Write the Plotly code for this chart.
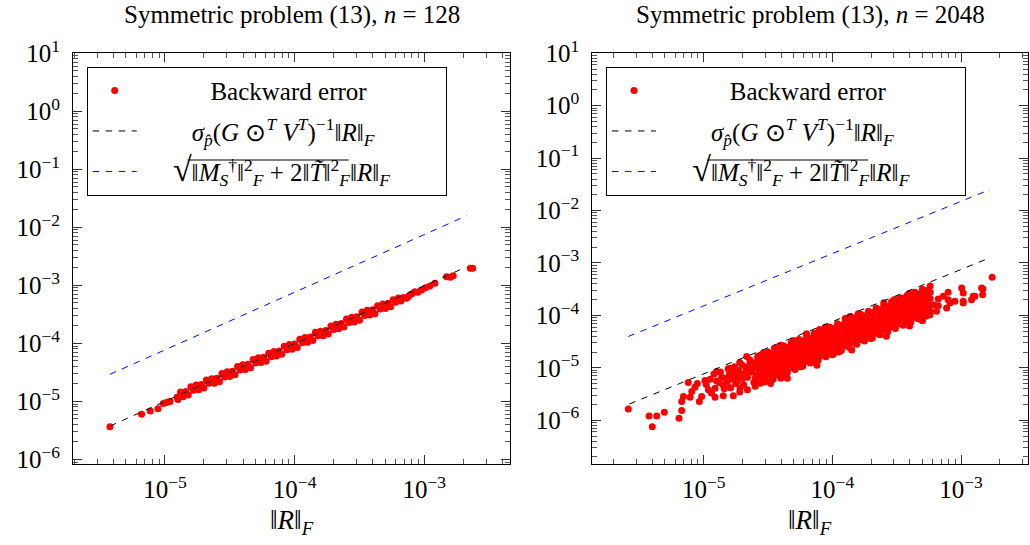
import plotly.graph_objects as go

# ---------------- data (log10 values) ----------------
# Left panel, n = 128 : log10 ||R||_F  and  log10 backward error
left_log_resid = [
    -5.424, -5.180, -5.113, -5.054, -5.013, -4.995, -4.975, -4.961, -4.907, -4.900,
    -4.88, -4.86, -4.84, -4.82, -4.80, -4.78, -4.76, -4.74, -4.72, -4.70,
    -4.68, -4.66, -4.64, -4.62, -4.60, -4.58, -4.56, -4.54, -4.52, -4.50,
    -4.48, -4.46, -4.44, -4.42, -4.40, -4.38, -4.36, -4.34, -4.32, -4.30,
    -4.28, -4.26, -4.24, -4.22, -4.20, -4.18, -4.16, -4.14, -4.12, -4.10,
    -4.08, -4.06, -4.04, -4.02, -4.00, -3.98, -3.96, -3.94, -3.92, -3.90,
    -3.88, -3.86, -3.84, -3.82, -3.80, -3.78, -3.76, -3.74, -3.72, -3.70,
    -3.68, -3.66, -3.64, -3.62, -3.60, -3.58, -3.56, -3.54, -3.52, -3.50,
    -3.48, -3.46, -3.44, -3.42, -3.40, -3.38, -3.36, -3.34, -3.32, -3.30,
    -3.28, -3.26, -3.24, -3.22, -3.20, -3.18,
    -3.16, -3.136, -3.12, -3.098, -3.073, -3.05, -3.021, -2.99, -2.957, -2.918,
    -2.828, -2.80, -2.777, -2.645, -2.627,
]
left_log_berr = [
    -5.438, -5.224, -5.167, -5.128, -5.038, -5.024, -5.012, -5.003, -4.931, -4.969,
    -4.84, -4.92, -4.83, -4.89, -4.75, -4.81, -4.72, -4.80, -4.71, -4.77,
    -4.63, -4.69, -4.61, -4.69, -4.60, -4.66, -4.52, -4.58, -4.49, -4.57,
    -4.48, -4.54, -4.40, -4.46, -4.37, -4.45, -4.36, -4.42, -4.28, -4.34,
    -4.25, -4.33, -4.24, -4.31, -4.17, -4.23, -4.14, -4.22, -4.13, -4.19,
    -4.05, -4.11, -4.02, -4.10, -4.01, -4.07, -3.93, -3.99, -3.90, -3.98,
    -3.89, -3.95, -3.81, -3.87, -3.79, -3.87, -3.78, -3.84, -3.70, -3.76,
    -3.67, -3.75, -3.66, -3.72, -3.58, -3.64, -3.55, -3.63, -3.54, -3.60,
    -3.46, -3.52, -3.43, -3.51, -3.42, -3.49, -3.35, -3.41, -3.32, -3.40,
    -3.31, -3.37, -3.25, -3.29, -3.22, -3.27,
    -3.21, -3.224, -3.19, -3.15, -3.11, -3.12, -3.081, -3.04, -3.012, -2.966,
    -2.852, -2.86, -2.834, -2.707, -2.707,
]

# Right panel, n = 2048
right_log_resid = [
    # sparse lower-left part
    -5.586, -5.425, -5.365, -5.306, -5.400, -5.192, -5.171, -5.171, -5.158, -5.106,
    -5.093, -5.120, -5.068, -5.034, -5.016, -4.990, -4.964, -4.912, -4.912, -4.899,
    -4.848, -4.821, -4.770, -4.796, -4.744, -4.718, -4.666, -4.653, -4.588, -4.537, -4.563,
    -5.05, -4.98, -4.95, -4.94, -4.88, -4.86, -4.84, -4.80, -4.78, -4.75,
    -4.73, -4.70, -4.70, -4.68, -4.64, -4.62, -4.60, -4.58, -4.56, -4.55,
    -4.52, -4.52, -4.50, -4.46, -4.42, -4.40, -4.36,
    -4.92, -4.90, -4.87, -4.85, -4.83, -4.81, -4.79, -4.77, -4.76, -4.74,
    -4.72, -4.71, -4.69, -4.67, -4.66, -4.64, -4.63, -4.61, -4.60, -4.59,
    -4.58, -4.57, -4.60, -4.66, -4.72,
    # dense band
    -4.56, -4.56, -4.56, -4.56, -4.56, -4.53, -4.53, -4.53, -4.53, -4.53,
    -4.50, -4.50, -4.50, -4.50, -4.50, -4.47, -4.47, -4.47, -4.47, -4.47,
    -4.44, -4.44, -4.44, -4.44, -4.44, -4.41, -4.41, -4.41, -4.41, -4.41,
    -4.38, -4.38, -4.38, -4.38, -4.38, -4.35, -4.35, -4.35, -4.35, -4.35,
    -4.32, -4.32, -4.32, -4.32, -4.32, -4.29, -4.29, -4.29, -4.29, -4.29,
    -4.26, -4.26, -4.26, -4.26, -4.26, -4.23, -4.23, -4.23, -4.23, -4.23,
    -4.20, -4.20, -4.20, -4.20, -4.20, -4.17, -4.17, -4.17, -4.17, -4.17,
    -4.14, -4.14, -4.14, -4.14, -4.14, -4.11, -4.11, -4.11, -4.11, -4.11,
    -4.08, -4.08, -4.08, -4.08, -4.08, -4.05, -4.05, -4.05, -4.05, -4.05,
    -4.02, -4.02, -4.02, -4.02, -4.02, -3.99, -3.99, -3.99, -3.99, -3.99,
    -3.96, -3.96, -3.96, -3.96, -3.96, -3.93, -3.93, -3.93, -3.93, -3.93,
    -3.90, -3.90, -3.90, -3.90, -3.90, -3.87, -3.87, -3.87, -3.87, -3.87,
    -3.84, -3.84, -3.84, -3.84, -3.84, -3.81, -3.81, -3.81, -3.81, -3.81,
    -3.78, -3.78, -3.78, -3.78, -3.78, -3.75, -3.75, -3.75, -3.75, -3.75,
    -3.72, -3.72, -3.72, -3.72, -3.72, -3.69, -3.69, -3.69, -3.69, -3.69,
    -3.66, -3.66, -3.66, -3.66, -3.66, -3.63, -3.63, -3.63, -3.63, -3.63,
    -3.60, -3.60, -3.60, -3.60, -3.60, -3.57, -3.57, -3.57, -3.57, -3.57,
    -3.54, -3.54, -3.54, -3.54, -3.54, -3.51, -3.51, -3.51, -3.51, -3.51,
    -3.48, -3.48, -3.48, -3.48, -3.48, -3.45, -3.45, -3.45, -3.45, -3.45,
    -3.42, -3.42, -3.42, -3.42, -3.42, -3.39, -3.39, -3.39, -3.39, -3.39,
    -3.36, -3.36, -3.36, -3.36, -3.36, -3.33, -3.33, -3.33, -3.33, -3.33,
    -3.30, -3.30, -3.30, -3.30, -3.30, -3.27, -3.27, -3.27, -3.27, -3.27,
    -3.24, -3.24, -3.24, -3.24, -3.24,
    # points sticking out of the band
    -4.20, -3.90, -3.60, -4.40, -4.05, -4.25, -4.00, -3.70, -3.95, -4.15,
    -4.45, -4.10, -3.80, -3.52, -3.40, -4.30,
    -4.48, -4.35, -4.12, -3.85, -3.58, -3.40, -3.30,
    # sparse upper-right part
    -2.758, -2.840, -2.830, -2.832, -2.892, -2.905, -2.918, -2.983, -2.983, -2.995,
    -2.983, -3.048, -3.100, -3.100, -3.138, -3.177, -3.086, -3.112, -3.177, -3.216,
    -3.190, -3.273, -3.345, -3.306, -3.267, -3.241, -3.320, -3.294, -3.462, -3.423,
    -3.449, -3.527, -3.552, -3.590, -3.500, -3.863,
]
right_log_berr = [
    -5.784, -5.918, -5.918, -5.847, -6.122, -5.962, -5.816, -5.644, -5.549, -5.560,
    -5.453, -5.280, -5.369, -5.644, -5.549, -5.243, -5.420, -5.560, -5.388, -5.070,
    -5.535, -5.293, -5.535, -5.006, -5.166, -5.388, -4.784, -4.975, -5.134, -4.719, -5.293,
    -5.30, -5.32, -5.22, -5.48, -5.28, -5.18, -5.40, -5.12, -5.22, -5.30,
    -5.05, -4.95, -5.20, -5.10, -4.88, -5.02, -5.20, -4.82, -4.95, -5.05,
    -4.88, -5.18, -5.25, -5.22, -5.12, -5.20, -5.15,
    -5.12, -5.25, -5.08, -5.33, -5.20, -5.02, -5.38, -5.10, -4.98, -5.25,
    -4.90, -5.14, -5.32, -5.00, -5.18, -4.85, -5.08, -5.28, -4.92, -5.14,
    -4.78, -5.02, -5.35, -5.42, -5.46,
    -4.76, -4.88, -5.00, -5.12, -5.24, -4.79, -4.91, -5.03, -5.15, -5.27,
    -4.70, -4.82, -4.94, -5.06, -5.18, -4.73, -4.85, -4.97, -5.09, -5.21,
    -4.64, -4.76, -4.88, -5.00, -5.12, -4.67, -4.79, -4.91, -5.03, -5.15,
    -4.58, -4.70, -4.82, -4.94, -5.06, -4.61, -4.73, -4.85, -4.97, -5.09,
    -4.52, -4.64, -4.76, -4.88, -5.00, -4.55, -4.67, -4.79, -4.91, -5.03,
    -4.46, -4.58, -4.70, -4.82, -4.94, -4.49, -4.61, -4.73, -4.85, -4.97,
    -4.40, -4.52, -4.64, -4.76, -4.88, -4.43, -4.55, -4.67, -4.79, -4.91,
    -4.34, -4.46, -4.58, -4.70, -4.82, -4.37, -4.49, -4.61, -4.73, -4.85,
    -4.28, -4.40, -4.52, -4.64, -4.76, -4.31, -4.43, -4.55, -4.67, -4.79,
    -4.22, -4.34, -4.46, -4.58, -4.70, -4.25, -4.37, -4.49, -4.61, -4.73,
    -4.16, -4.28, -4.40, -4.52, -4.64, -4.19, -4.31, -4.43, -4.55, -4.67,
    -4.10, -4.22, -4.34, -4.46, -4.58, -4.13, -4.25, -4.37, -4.49, -4.61,
    -4.04, -4.16, -4.28, -4.40, -4.52, -4.07, -4.19, -4.31, -4.43, -4.55,
    -3.98, -4.10, -4.22, -4.34, -4.46, -4.01, -4.13, -4.25, -4.37, -4.49,
    -3.92, -4.04, -4.16, -4.28, -4.40, -3.95, -4.07, -4.19, -4.31, -4.43,
    -3.86, -3.98, -4.10, -4.22, -4.34, -3.89, -4.01, -4.13, -4.25, -4.37,
    -3.80, -3.92, -4.04, -4.16, -4.28, -3.83, -3.95, -4.07, -4.19, -4.31,
    -3.74, -3.86, -3.98, -4.10, -4.22, -3.77, -3.89, -4.01, -4.13, -4.25,
    -3.68, -3.80, -3.92, -4.04, -4.16, -3.71, -3.83, -3.95, -4.07, -4.19,
    -3.62, -3.74, -3.86, -3.98, -4.10, -3.65, -3.77, -3.89, -4.01, -4.13,
    -3.56, -3.68, -3.80, -3.92, -4.04, -3.59, -3.71, -3.83, -3.95, -4.07,
    -3.50, -3.62, -3.74, -3.86, -3.98, -3.53, -3.65, -3.77, -3.89, -4.01,
    -3.44, -3.56, -3.68, -3.80, -3.92,
    -4.35, -4.06, -3.76, -4.57, -4.22, -4.98, -4.75, -4.44, -4.70, -4.88,
    -4.62, -4.27, -3.97, -3.70, -3.58, -4.48,
    -5.30, -5.20, -4.95, -4.66, -4.40, -4.20, -4.10,
    -3.273, -3.476, -3.495, -3.604, -3.637, -3.637, -3.700, -3.572, -3.730, -3.476,
    -3.763, -3.730, -3.560, -3.700, -3.637, -3.687, -3.763, -3.860, -3.815, -3.795,
    -3.923, -3.540, -3.604, -3.730, -3.860, -3.987, -3.987, -3.890, -3.667, -3.860,
    -3.860, -3.954, -3.923, -3.860, -3.987, -4.020,
]

# Bound lines (end points, log10)
left_sigma_x = [-5.424, -2.690]
left_sigma_y = [-5.426, -2.697]
left_frob_x = [-5.424, -2.673]
left_frob_y = [-4.534, -1.800]
right_sigma_x = [-5.578, -2.775]
right_sigma_y = [-5.690, -2.900]
right_frob_x = [-5.586, -2.775]
right_frob_y = [-4.402, -1.600]

x_tick_exps = [-5, -4, -3]
y_tick_exps = [-6, -5, -4, -3, -2, -1, 0, 1]

titles = ["Symmetric problem (13), <i>n</i> = 128", "Symmetric problem (13), <i>n</i> = 2048"]
NB = "\u00a0"
legend_names = [
    NB * 11 + "Backward error",
    NB * 8 + "<i>σ</i><sub><i>p̂</i></sub>(<i>G</i> ⊙<sup><i>T</i></sup> <i>V</i><sup><i>T</i></sup>)<sup>−1</sup>‖<i>R</i>‖<sub><i>F</i></sub>",
    NB * 5 + "<span style=\"font-size:34px\">√</span>‖<i>M</i><sub><i>S</i></sub><sup>†</sup>‖<sup>2</sup><sub><i>F</i></sub> + 2‖<i>T̃</i>‖<sup>2</sup><sub><i>F</i></sub>‖<i>R</i>‖<sub><i>F</i></sub>" + NB * 8,
]
xlabel = "‖<i>R</i>‖<sub><i>F</i></sub>"

# ---------------- figure ----------------
W, H = 1030, 545
FONT = "Liberation Serif"
FS = 25
TFS = 25

def px_x(sx):
    return sx / W

def px_y(sy):
    return 1 - sy / H

def p10(v):
    return [10 ** a for a in v]

fig = go.Figure()

panels = [
    dict(xa="x", ya="y", leg="legend", rx=left_log_resid, ry=left_log_berr,
         sx=left_sigma_x, sy=left_sigma_y, fx=left_frob_x, fy=left_frob_y),
    dict(xa="x2", ya="y2", leg="legend2", rx=right_log_resid, ry=right_log_berr,
         sx=right_sigma_x, sy=right_sigma_y, fx=right_frob_x, fy=right_frob_y),
]
for p in panels:
    fig.add_trace(go.Scatter(x=p10(p["rx"]), y=p10(p["ry"]), mode="markers",
                             marker=dict(color="#ff0000", size=7, line=dict(width=0)),
                             name=legend_names[0], xaxis=p["xa"], yaxis=p["ya"],
                             legend=p["leg"], legendgroup=p["leg"] + "a"))
    fig.add_trace(go.Scatter(x=p10(p["sx"]), y=p10(p["sy"]), mode="lines",
                             line=dict(color="black", width=1, dash="6.5px,6.5px"),
                             name=legend_names[1], xaxis=p["xa"], yaxis=p["ya"],
                             legend=p["leg"], legendgroup=p["leg"] + "b"))
    fig.add_trace(go.Scatter(x=p10(p["fx"]), y=p10(p["fy"]), mode="lines",
                             line=dict(color="#0000ff", width=1, dash="6.5px,6.5px"),
                             name=legend_names[2], xaxis=p["xa"], yaxis=p["ya"],
                             legend=p["leg"], legendgroup=p["leg"] + "c"))

def minor_vals(lo, hi):
    out = []
    for k in range(lo, hi + 1):
        for m in range(2, 10):
            out.append(m * 10 ** k)
    return out

def axis_common():
    return dict(type="log", showline=True, linecolor="black", linewidth=1, mirror="ticks",
                ticks="inside", ticklen=9, tickwidth=1, tickcolor="#333",
                showgrid=False, zeroline=False,
                tickfont=dict(family=FONT, size=TFS, color="black"))

x_dom = [[px_x(73), px_x(510)], [px_x(592.3), px_x(1028.3)]]
y_dom = [px_y(464), px_y(53.3)]
x_ranges = [[-5.709, -2.339], [-5.866, -2.477]]
y_ranges = [[-6.08, 1.0], [-6.835, 1.0]]

xtext = ["10<sup>−%d</sup>" % -e for e in x_tick_exps]
ytext = [("10<sup>−%d</sup>" % -e) if e < 0 else ("10<sup>%d</sup>" % e) for e in y_tick_exps]

for i in range(2):
    xa = axis_common()
    xa.update(domain=x_dom[i], range=x_ranges[i], anchor="y" if i == 0 else "y2",
              tickvals=[10 ** e for e in x_tick_exps], ticktext=xtext, ticklabelstandoff=3,
              minor=dict(tickvals=minor_vals(-7, -3), ticks="inside", ticklen=5,
                         tickwidth=1, tickcolor="#555", showgrid=False))
    ya = axis_common()
    ya.update(domain=y_dom, range=y_ranges[i], anchor="x" if i == 0 else "x2",
              tickvals=[10 ** e for e in y_tick_exps], ticktext=ytext, ticklabelstandoff=7,
              minor=dict(tickvals=minor_vals(-7, 0), ticks="inside", ticklen=5,
                         tickwidth=1, tickcolor="#555", showgrid=False))
    if i == 0:
        fig.update_layout(xaxis=xa, yaxis=ya)
    else:
        fig.update_layout(xaxis2=xa, yaxis2=ya)

LEG_X = [86.7, 606.0]
LEG_Y = 66.7
leg_common = dict(bgcolor="rgba(255,255,255,0)", bordercolor="black", borderwidth=1,
                  font=dict(family=FONT, size=FS, color="black"),
                  xanchor="left", yanchor="top", itemwidth=44, tracegroupgap=5,
                  traceorder="grouped")
fig.update_layout(
    legend=dict(x=px_x(LEG_X[0]), y=px_y(LEG_Y), **leg_common),
    legend2=dict(x=px_x(LEG_X[1]), y=px_y(LEG_Y), **leg_common),
)

# vinculum of the square root in the third legend entry
shapes = []
for lx in LEG_X:
    shapes.append(dict(type="line", xref="paper", yref="paper",
                       x0=px_x(lx + 101), x1=px_x(lx + 262),
                       y0=px_y(160), y1=px_y(160),
                       line=dict(color="black", width=1.2), layer="above"))

annotations = []
for i in range(2):
    cx = (x_dom[i][0] + x_dom[i][1]) / 2
    annotations.append(dict(text=titles[i], x=cx, y=px_y(15), xref="paper", yref="paper",
                            showarrow=False, xanchor="center", yanchor="middle",
                            font=dict(family=FONT, size=FS, color="black")))
    annotations.append(dict(text=xlabel, x=cx, y=px_y(522), xref="paper", yref="paper",
                            showarrow=False, xanchor="center", yanchor="middle",
                            font=dict(family=FONT, size=27, color="black")))

fig.update_layout(
    width=W, height=H, showlegend=True,
    margin=dict(l=0, r=0, t=0, b=0, autoexpand=False),
    paper_bgcolor="white", plot_bgcolor="white",
    font=dict(family=FONT, size=FS, color="black"),
    annotations=annotations, shapes=shapes,
)

# remove the default 8 px page margin so the 1030x545 figure fills the window
fig.write_html("out.html", config={"displayModeBar": False},
               post_script="document.body.style.margin='0px';")
